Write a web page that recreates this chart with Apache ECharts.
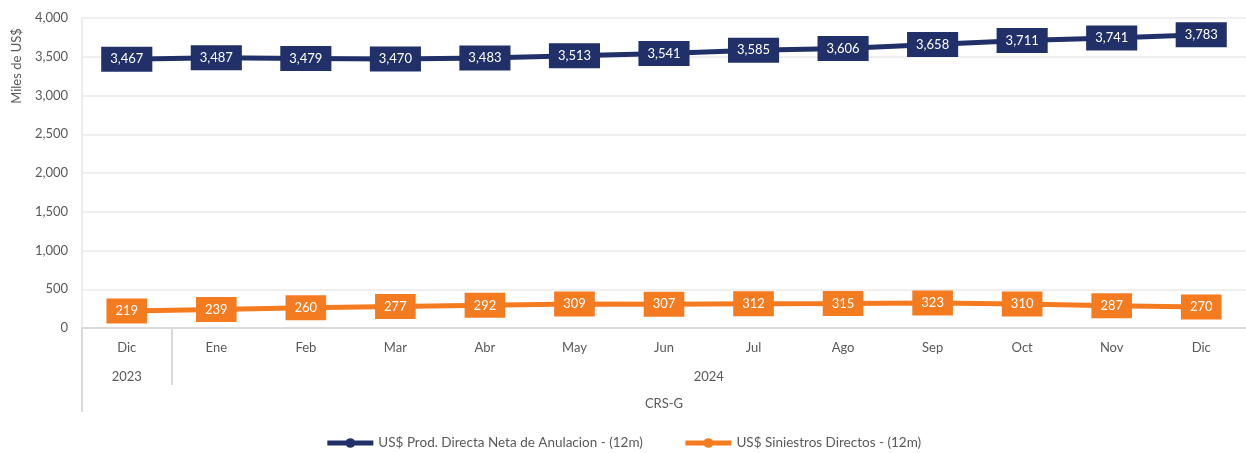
<!DOCTYPE html>
<html>
<head>
<meta charset="utf-8">
<script src="https://cdn.jsdelivr.net/npm/echarts@6/dist/echarts.min.js"></script>
<style>
  html, body { margin: 0; padding: 0; background: #ffffff; }
  #chart { width: 1246px; height: 453px; }
</style>
</head>
<body>
<div id="chart"></div>
<script>
// Monthly categories (Dic 2023 .. Dic 2024)
const months = ['Dic', 'Ene', 'Feb', 'Mar', 'Abr', 'May', 'Jun', 'Jul', 'Ago', 'Sep', 'Oct', 'Nov', 'Dic'];
// Second and third axis levels: year groups and company
const yearLabels = ['2023', '2024'];
const groupLabel = 'CRS-G';
// Rolling 12-month values, thousands of US$
const produccion = [3467, 3487, 3479, 3470, 3483, 3513, 3541, 3585, 3606, 3658, 3711, 3741, 3783];
const siniestros = [219, 239, 260, 277, 292, 309, 307, 312, 315, 323, 310, 287, 270];
const seriesNames = ['US$ Prod. Directa Neta de Anulacion - (12m)', 'US$ Siniestros Directos - (12m)'];
const yAxisTitle = 'Miles de US$';

const navy = '#213069';
const orange = '#f47b20';
const textColor = '#595959';
const font = 'Lato';

const chart = echarts.init(document.getElementById('chart'));

// Year spans along the category bands: 2023 = [0,1], 2024 = [1,13]
const yearCenters = [0.5, 7];
const yearByCenter = { 0.5: yearLabels[0], 7: yearLabels[1] };

function lineSeries(name, data, color) {
  return {
    name: name,
    type: 'line',
    data: data,
    xAxisIndex: 0,
    symbol: 'circle',
    symbolSize: 8,
    lineStyle: { width: 5, color: color },
    itemStyle: { color: color },
    label: {
      show: true,
      position: 'inside',
      formatter: p => p.value.toLocaleString('en-US'),
      color: '#ffffff',
      fontFamily: font,
      fontSize: 13,
      backgroundColor: color,
      padding: [6, 9, 6, 9]
    },
    emphasis: { disabled: true },
    animation: false
  };
}

chart.setOption({
  animation: false,
  textStyle: { fontFamily: font },
  grid: { left: 82, right: -6, top: 18, bottom: 125, containLabel: false },
  graphic: [{
    type: 'text',
    x: 17,
    y: 66,
    rotation: Math.PI / 2,
    style: {
      text: yAxisTitle,
      fill: textColor,
      font: '13px Lato',
      align: 'center',
      verticalAlign: 'middle'
    }
  }],
  legend: {
    bottom: -2,
    left: 'center',
    itemWidth: 46,
    itemHeight: 12,
    itemGap: 40,
    lineStyle: { width: 5 },
    textStyle: { color: textColor, fontSize: 13.5, fontFamily: font },
    data: seriesNames
  },
  xAxis: [
    {
      type: 'category',
      data: months,
      position: 'bottom',
      boundaryGap: true,
      axisLine: { show: true, lineStyle: { color: '#d9d9de', width: 2 } },
      axisTick: { show: false },
      axisLabel: { color: textColor, fontSize: 13, margin: 13, fontFamily: font },
      splitLine: { show: false }
    },
    {
      type: 'value',
      min: 0,
      max: 13,
      position: 'bottom',
      axisLine: { show: false },
      splitLine: { show: false },
      axisTick: { show: true, customValues: [1], length: 57, lineStyle: { color: '#d9d9de', width: 2 } },
      axisLabel: {
        show: true,
        customValues: yearCenters,
        formatter: v => yearByCenter[v] || '',
        color: textColor, fontSize: 13, margin: 42, fontFamily: font
      }
    },
    {
      type: 'value',
      min: 0,
      max: 13,
      position: 'bottom',
      axisLine: { show: false },
      splitLine: { show: false },
      axisTick: { show: true, customValues: [0], length: 84, lineStyle: { color: '#d9d9de', width: 2 } },
      axisLabel: {
        show: true,
        customValues: [6.5],
        formatter: () => groupLabel,
        color: textColor, fontSize: 13, margin: 69, fontFamily: font
      }
    }
  ],
  yAxis: {
    type: 'value',
    min: 0,
    max: 4000,
    interval: 500,
    axisLine: { show: true, lineStyle: { color: '#ececec', width: 2 } },
    axisTick: { show: false },
    axisLabel: {
      color: textColor, fontSize: 13, margin: 14, fontFamily: font,
      formatter: v => v.toLocaleString('en-US')
    },
    splitLine: { show: true, lineStyle: { color: '#efefef', width: 2 } }
  },
  series: [
    lineSeries(seriesNames[0], produccion, navy),
    lineSeries(seriesNames[1], siniestros, orange)
  ]
});
</script>
</body>
</html>
